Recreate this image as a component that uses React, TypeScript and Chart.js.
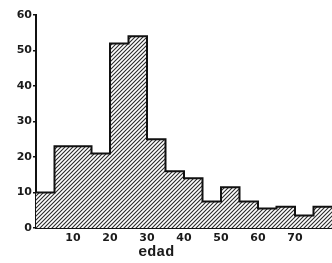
import React, { useEffect, useRef } from "react";
import { Chart, registerables } from "chart.js";

Chart.register(...registerables);

// Histogram bins (age, years) and counts
const binStarts = [0, 5, 10, 15, 20, 25, 30, 35, 40, 45, 50, 55, 60, 65, 70, 75];
const binEnd = 80;
const counts = [10, 23, 23, 21, 52, 54, 25, 16, 14, 7.5, 11.5, 7.5, 5.5, 6, 3.5, 6];
const xTicks = [10, 20, 30, 40, 50, 60, 70];
const yTicks = [0, 10, 20, 30, 40, 50, 60];
const xTitle = "edad";

function makeHatch(): CanvasPattern | string {
  const c = document.createElement("canvas");
  c.width = 4;
  c.height = 4;
  const g = c.getContext("2d");
  if (!g) return "#999";
  g.fillStyle = "#ffffff";
  g.fillRect(0, 0, 4, 4);
  g.strokeStyle = "#2a2a2a";
  g.lineWidth = 1.1;
  g.beginPath();
  g.moveTo(-1, 5);
  g.lineTo(5, -1);
  g.moveTo(-1, 1);
  g.lineTo(1, -1);
  g.moveTo(3, 5);
  g.lineTo(5, 3);
  g.stroke();
  const p = g.createPattern(c, "repeat");
  return p || "#999";
}

export default function App() {
  const ref = useRef<HTMLCanvasElement | null>(null);

  useEffect(() => {
    document.body.style.margin = "0";
    const canvas = ref.current;
    if (!canvas) return;
    const pts = binStarts.map((x, i) => ({ x, y: counts[i] }));
    pts.push({ x: binEnd, y: counts[counts.length - 1] });

    const titlePlugin = {
      id: "xtitle",
      afterDraw(chart: any) {
        const ctx = chart.ctx;
        const xs = chart.scales.x;
        ctx.save();
        ctx.font = "bold 15px 'Liberation Mono', 'DejaVu Sans Mono', monospace";
        ctx.fillStyle = "#1a1a1a";
        ctx.textAlign = "center";
        ctx.textBaseline = "middle";
        ctx.fillText(xTitle, xs.getPixelForValue(32.5), chart.chartArea.bottom + 24);
        ctx.restore();
      },
    };

    const chart = new Chart(canvas, {
      type: "line",
      data: {
        datasets: [
          {
            data: pts,
            stepped: "before",
            borderColor: "#111",
            borderWidth: 2,
            pointRadius: 0,
            fill: "origin",
            backgroundColor: makeHatch() as any,
          },
        ],
      },
      options: {
        animation: false,
        responsive: false,
        maintainAspectRatio: false,
        layout: { padding: { top: 15, right: 0, left: 0, bottom: 0 } },
        plugins: {
          legend: { display: false },
          tooltip: { enabled: false },
        },
        scales: {
          x: {
            type: "linear",
            min: 0,
            max: binEnd,
            afterFit(s: any) {
              s.height = 35;
            },
            afterBuildTicks(s: any) {
              s.ticks = xTicks.map((v) => ({ value: v }));
            },
            grid: { display: false, drawOnChartArea: false, drawTicks: false },
            border: { display: true, color: "#111", width: 2 },
            ticks: {
              padding: 4,
              color: "#1a1a1a",
              font: { family: "'DejaVu Sans', sans-serif", size: 11, weight: "bold" },
              maxRotation: 0,
            },
          },
          y: {
            type: "linear",
            min: 0,
            max: 60,
            afterFit(s: any) {
              s.width = 36;
            },
            afterBuildTicks(s: any) {
              s.ticks = yTicks.map((v) => ({ value: v }));
            },
            grid: { drawOnChartArea: false, drawTicks: true, tickLength: 3, color: "#111", lineWidth: 1.5 },
            border: { display: true, color: "#111", width: 2 },
            ticks: {
              padding: 1,
              color: "#1a1a1a",
              font: { family: "'DejaVu Sans', sans-serif", size: 11, weight: "bold" },
            },
          },
        },
      },
      plugins: [titlePlugin],
    });
    return () => chart.destroy();
  }, []);

  return (
    <div style={{ position: "absolute", left: 0, top: 0, width: 332, height: 263, background: "#fff" }}>
      <canvas ref={ref} width={332} height={263} style={{ width: 332, height: 263, display: "block" }} />
    </div>
  );
}
